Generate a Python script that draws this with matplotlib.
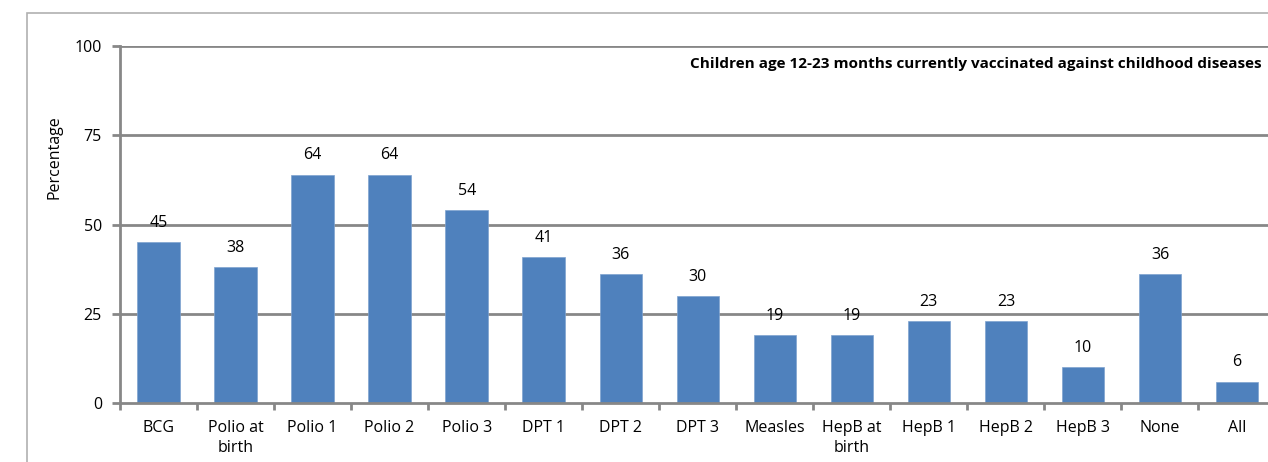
import matplotlib.pyplot as plt
from matplotlib.patches import Rectangle
import numpy as np

plt.rcParams['font.family'] = ['Open Sans', 'DejaVu Sans']

categories = ['BCG', 'Polio at\nbirth', 'Polio 1', 'Polio 2', 'Polio 3', 'DPT 1', 'DPT 2',
              'DPT 3', 'Measles', 'HepB at\nbirth', 'HepB 1', 'HepB 2', 'HepB 3', 'None', 'All']
values = [45, 38, 64, 64, 54, 41, 36, 30, 19, 19, 23, 23, 10, 36, 6]
yticks = [0, 25, 50, 75, 100]

grid_c = '#878787'
bar_c = '#4F81BD'
fs = 11.5

fig = plt.figure(figsize=(12.68, 4.62), dpi=100)
ax = fig.add_axes([120 / 1268, 1 - 403 / 462, 1155.5 / 1268, 357 / 462])

# outer chart frame
fig.patches.append(Rectangle((27 / 1268, -0.1), 1.1, 1.1 - 13 / 462,
                             transform=fig.transFigure, fill=False,
                             edgecolor='#b0b0b0', linewidth=1.2))

x = np.arange(len(categories))
ax.bar(x, values, width=0.55, color=bar_c, edgecolor='#7fa3d0', linewidth=0.5, zorder=3)

for xi, v in zip(x, values):
    ax.annotate(str(v), (xi, v), xytext=(0, 8), textcoords='offset points',
                ha='center', va='bottom', fontsize=fs, color='black', zorder=4)

ax.set_xlim(-0.5, len(categories) - 0.5)
ax.set_ylim(0, 100)
ax.set_yticks(yticks)
ax.set_yticklabels([str(t) for t in yticks], fontsize=fs)
for t in yticks[1:]:
    ax.axhline(t, color=grid_c, linewidth=2.0, zorder=1)

ax.set_xticks(x)
ax.set_xticklabels(categories, fontsize=fs, linespacing=1.4)
ax.set_xticks(np.arange(len(categories) + 1) - 0.5, minor=True)
ax.tick_params(axis='x', which='major', length=0, pad=12)
ax.tick_params(axis='x', which='minor', length=5, width=2, color=grid_c, direction='out')
ax.tick_params(axis='y', length=6, width=2, color=grid_c, direction='out', pad=7)

for s in ['top', 'right']:
    ax.spines[s].set_visible(False)
for s in ['left', 'bottom']:
    ax.spines[s].set_color(grid_c)
    ax.spines[s].set_linewidth(2.0)
    ax.spines[s].set_zorder(5)

fig.text(55 / 1268, 1 - 157 / 462, 'Percentage', rotation=90, ha='center', va='center',
         fontsize=fs)
fig.text(1262 / 1268, 1 - 64 / 462,
         'Children age 12-23 months currently vaccinated against childhood diseases',
         ha='right', va='center', fontsize=11, fontweight='bold')

fig.savefig('out.png', dpi=100)
